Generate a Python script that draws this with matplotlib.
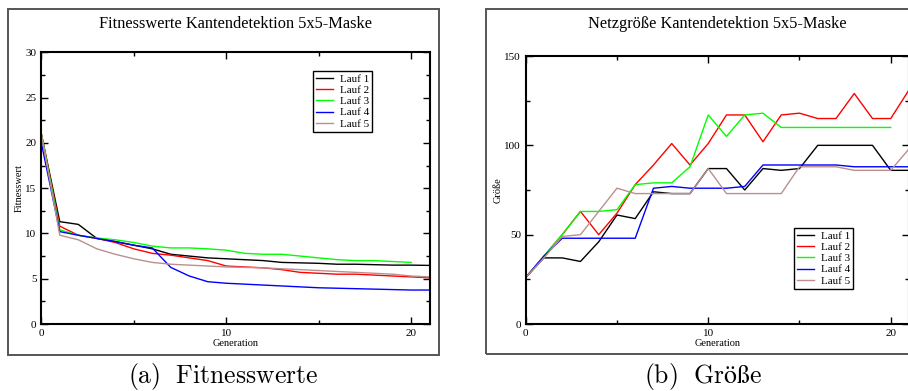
import matplotlib
matplotlib.use("Agg")
import matplotlib.pyplot as plt
from matplotlib.patches import Rectangle
from matplotlib.ticker import MultipleLocator

plt.rcParams["mathtext.fontset"] = "cm"

# Fitness per generation, five runs
gen = list(range(22))
fit_1 = [21.0, 11.3, 11.0, 9.45, 9.1, 8.7, 8.3, 7.7, 7.5, 7.3, 7.2, 7.1, 7.0, 6.8,
         6.75, 6.7, 6.6, 6.6, 6.55, 6.5, 6.5, 6.47]
fit_2 = [21.0, 10.8, 9.8, 9.45, 9.0, 8.3, 7.8, 7.6, 7.3, 7.0, 6.4, 6.3, 6.2, 6.0,
         5.7, 5.6, 5.5, 5.5, 5.4, 5.3, 5.2, 5.1]
fit_3 = [21.0, 10.4, 9.8, 9.5, 9.3, 9.0, 8.6, 8.4, 8.4, 8.3, 8.15, 7.8, 7.7, 7.7,
         7.5, 7.3, 7.1, 7.0, 7.0, 6.9, 6.8]
fit_4 = [20.0, 10.2, 9.8, 9.45, 9.1, 8.7, 8.4, 6.25, 5.3, 4.67, 4.5, 4.4, 4.3, 4.2,
         4.1, 4.0, 3.95, 3.9, 3.85, 3.8, 3.75, 3.75]
fit_5 = [21.0, 9.8, 9.3, 8.3, 7.7, 7.2, 6.8, 6.6, 6.5, 6.4, 6.3, 6.25, 6.2, 6.1,
         6.0, 5.9, 5.8, 5.7, 5.6, 5.5, 5.3, 5.2]

# Net size per generation, five runs
size_1 = [26, 37, 37, 35, 46, 61, 59, 74, 73, 73, 87, 87, 75, 87, 86, 87, 100, 100,
          100, 100, 86, 86]
size_2 = [26, 38, 50, 63, 50, 62, 78, 89, 101, 89, 101, 117, 117, 102, 117, 118, 115,
          115, 129, 115, 115, 131]
size_3 = [26, 38, 50, 63, 63, 64, 78, 79, 79, 88, 117, 105, 117, 118, 110, 110, 110,
          110, 110, 110, 110]
size_4 = [26, 38, 48, 48, 48, 48, 48, 76, 77, 76, 76, 76, 77, 89, 89, 89, 89, 89, 88,
          88, 88, 88]
size_5 = [26, 37, 49, 50, 63, 76, 73, 73, 73, 73, 87, 73, 73, 73, 73, 88, 88, 88, 86,
          86, 86, 98]

labels = ["Lauf 1", "Lauf 2", "Lauf 3", "Lauf 4", "Lauf 5"]
colors = ["#000000", "#ff0000", "#00ff00", "#0000ff", "#bc8f8f"]

W, H = 908, 391
fig = plt.figure(figsize=(W / 100, H / 100), dpi=100)
serif = "Liberation Serif"


def fx(px):
    return px / W


def fy(py):
    return 1 - py / H


def style_axes(ax, ymaj, ymin):
    ax.set_xlim(0, 21)
    ax.xaxis.set_major_locator(MultipleLocator(10))
    ax.xaxis.set_minor_locator(MultipleLocator(5))
    ax.yaxis.set_major_locator(MultipleLocator(ymaj))
    ax.yaxis.set_minor_locator(MultipleLocator(ymin))
    ax.tick_params(which="both", direction="in", top=True, right=True,
                   width=1.0, labelsize=8)
    ax.tick_params(which="major", length=5, pad=3.5)
    ax.tick_params(which="minor", length=3)
    for lab in ax.get_xticklabels() + ax.get_yticklabels():
        lab.set_fontfamily(serif)
    for s in ax.spines.values():
        s.set_linewidth(1.5)


def add_legend(ax, x, y):
    leg = ax.legend(loc="upper left", bbox_to_anchor=(fx(x), fy(y)),
                    bbox_transform=fig.transFigure, frameon=True, fancybox=False,
                    edgecolor="black", framealpha=1, borderaxespad=0,
                    borderpad=0.3, labelspacing=0.12, handlelength=1.5,
                    handletextpad=0.6, prop={"family": serif, "size": 8})
    leg.get_frame().set_linewidth(1.0)


# panel frames
fig.patches.append(Rectangle((fx(7.7), fy(355)), fx(439) - fx(7.7), fy(9) - fy(355),
                             transform=fig.transFigure, fill=False,
                             edgecolor="#555555", lw=1.4))
fig.patches.append(Rectangle((fx(486.3), fy(354.3)), fx(960) - fx(486.3),
                             fy(9.3) - fy(354.3), transform=fig.transFigure,
                             fill=False, edgecolor="#555555", lw=1.4))

# left: fitness
ax1 = fig.add_axes([fx(41.3), fy(324), fx(429.7) - fx(41.3), fy(52.3) - fy(324)])
for y, c, l in zip([fit_1, fit_2, fit_3, fit_4, fit_5], colors, labels):
    ax1.plot(gen[:len(y)], y, color=c, lw=1.0, label=l)
ax1.set_ylim(0, 30)
style_axes(ax1, 5, 2.5)
add_legend(ax1, 313, 71)

# right: net size
ax2 = fig.add_axes([fx(525.7), fy(324), fx(909) - fx(525.7), fy(56) - fy(324)])
for y, c, l in zip([size_1, size_2, size_3, size_4, size_5], colors, labels):
    ax2.plot(gen[:len(y)], y, color=c, lw=1.0, label=l)
ax2.set_ylim(0, 150)
style_axes(ax2, 50, 25)
add_legend(ax2, 794, 228)

# titles and axis labels
fig.text(fx(235.5), fy(24), "Fitnesswerte Kantendetektion 5x5-Maske",
         ha="center", va="center", family=serif, fontsize=11.75)
fig.text(fx(717.3), fy(24), "Netzgröße Kantendetektion 5x5-Maske",
         ha="center", va="center", family=serif, fontsize=11.75)
fig.text(fx(235.5), fy(343), "Generation", ha="center", va="center",
         family=serif, fontsize=7.5)
fig.text(fx(718), fy(343), "Generation", ha="center", va="center",
         family=serif, fontsize=7.5)
fig.text(fx(19.5), fy(188), "Fitnesswert", ha="center", va="center",
         rotation=90, family=serif, fontsize=7.5)
fig.text(fx(498.5), fy(190), "Größe", ha="center", va="center",
         rotation=90, family=serif, fontsize=7.5)

# subfigure captions
fig.text(fx(223), fy(377), r"$\mathrm{(a)\ \ Fitnesswerte}$", ha="center",
         va="center", fontsize=18.5)
fig.text(fx(703), fy(377), r"$\mathrm{(b)\ \ Größe}$", ha="center",
         va="center", fontsize=18.5)

fig.savefig("out.png", dpi=100)
